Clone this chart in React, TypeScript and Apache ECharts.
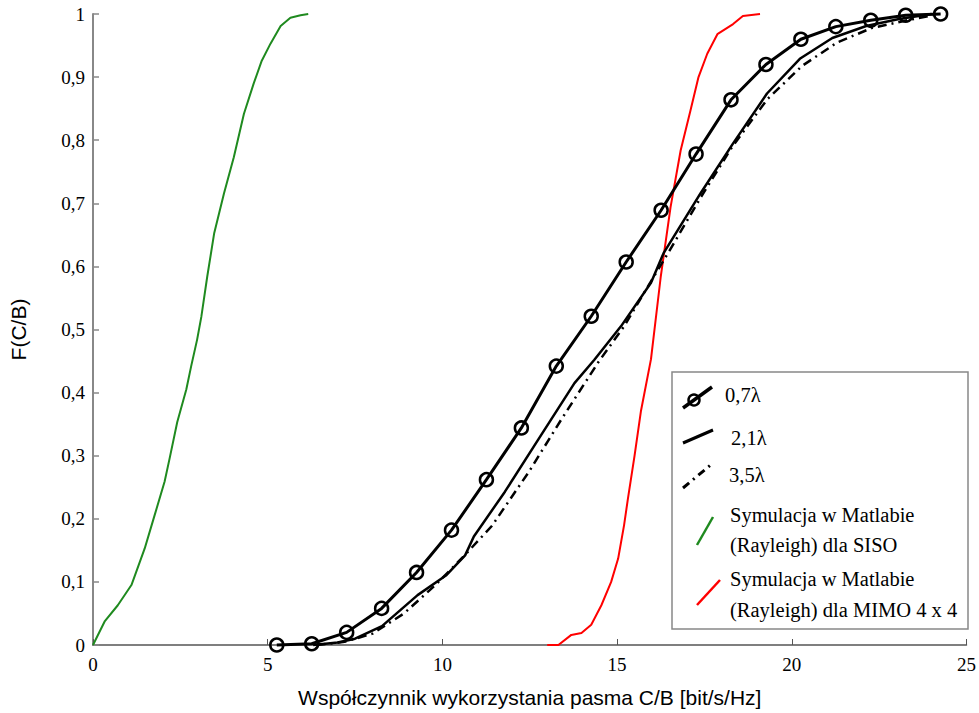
import React, { useEffect, useRef } from "react";
import * as echarts from "echarts";

// 0,7λ (measured, with markers)
const lambda07: [number, number][] = [
  [5.26, 0.0], [6.26, 0.002], [7.26, 0.02], [8.26, 0.058], [9.26, 0.115],
  [10.26, 0.182], [11.26, 0.262], [12.26, 0.344], [13.26, 0.442], [14.26, 0.521],
  [15.26, 0.607], [16.26, 0.689], [17.26, 0.778], [18.26, 0.864], [19.26, 0.92],
  [20.26, 0.96], [21.26, 0.98], [22.26, 0.99], [23.26, 0.998], [24.26, 1.0],
];

// 2,1λ (solid)
const lambda21: [number, number][] = [
  [6.3, 0], [7.0, 0.004], [7.5, 0.01], [8.27, 0.03], [9.29, 0.079], [10.1, 0.11],
  [10.65, 0.142], [10.9, 0.172], [11.79, 0.243], [12.76, 0.327], [13.78, 0.415],
  [14.35, 0.452], [15.11, 0.505], [15.97, 0.574], [16.33, 0.621], [17.39, 0.716],
  [18.32, 0.795], [19.29, 0.874], [20.23, 0.929], [21.16, 0.962], [22.13, 0.981],
  [23.07, 0.992], [24.0, 1.0],
];

// 3,5λ (dash-dot)
const lambda35: [number, number][] = [
  [6.4, 0], [7.2, 0.005], [8.0, 0.018], [8.9, 0.05], [9.8, 0.095], [10.6, 0.14],
  [11.42, 0.189], [12.47, 0.274], [13.41, 0.358], [14.46, 0.448], [15.2, 0.505],
  [15.77, 0.558], [16.5, 0.625], [17.4, 0.71], [18.3, 0.79], [19.3, 0.865],
  [20.3, 0.918], [21.3, 0.955], [22.3, 0.978], [23.3, 0.99], [24.2, 1.0],
];

// Symulacja SISO (green)
const sisoSim: [number, number][] = [
  [0, 0], [0.34, 0.038], [0.71, 0.063], [1.1, 0.095], [1.48, 0.153], [1.76, 0.205],
  [2.05, 0.259], [2.19, 0.295], [2.41, 0.353], [2.67, 0.405], [2.81, 0.442],
  [2.98, 0.484], [3.1, 0.52], [3.27, 0.584], [3.47, 0.653], [3.75, 0.716],
  [4.03, 0.773], [4.32, 0.842], [4.6, 0.89], [4.83, 0.926], [5.08, 0.953],
  [5.37, 0.981], [5.65, 0.994], [5.94, 0.998], [6.16, 1.0],
];

// Symulacja MIMO 4x4 (red)
const mimoSim: [number, number][] = [
  [13.0, 0], [13.32, 0], [13.69, 0.016], [13.98, 0.019], [14.26, 0.032],
  [14.55, 0.063], [14.83, 0.1], [15.03, 0.137], [15.2, 0.19], [15.31, 0.232],
  [15.5, 0.3], [15.68, 0.37], [15.97, 0.453], [16.25, 0.584], [16.53, 0.694],
  [16.82, 0.784], [17.1, 0.847], [17.33, 0.9], [17.58, 0.937], [17.87, 0.968],
  [18.32, 0.984], [18.6, 0.997], [19.09, 1.0],
];

const legendLabels = ["0,7λ", "2,1λ", "3,5λ", "Symulacja w Matlabie", "(Rayleigh) dla SISO", "Symulacja w Matlabie", "(Rayleigh) dla MIMO 4 x 4"];

const SERIF = "'Liberation Serif', 'Times New Roman', serif";
const SANS = "'Liberation Sans', Arial, sans-serif";

export default function App() {
  const ref = useRef<HTMLDivElement>(null);
  useEffect(() => {
    if (!ref.current) return;
    const chart = echarts.init(ref.current, null, { renderer: "svg" });
    const txt = (x: number, y: number, s: string) => ({
      type: "text", x, y, z: 20,
      style: { text: s, fontFamily: SERIF, fontSize: 20.5, fill: "#000", verticalAlign: "middle", align: "left" },
    });
    const seg = (x1: number, y1: number, x2: number, y2: number, stroke: string, lineWidth: number, lineDash?: number[]) => ({
      type: "line", z: 20,
      shape: { x1, y1, x2, y2 },
      style: lineDash ? { stroke, lineWidth, lineDash } : { stroke, lineWidth },
    });
    chart.setOption({
      animation: false,
      backgroundColor: "#fff",
      grid: { left: 88, right: 11, top: 14, bottom: 66 },
      xAxis: {
        type: "value", min: 0, max: 25, interval: 5,
        name: "Współczynnik wykorzystania pasma C/B [bit/s/Hz]",
        nameLocation: "middle", nameGap: 42,
        nameTextStyle: { fontFamily: SANS, fontSize: 21, color: "#000" },
        axisLine: { lineStyle: { color: "#555", width: 1.5 } },
        axisTick: { inside: true, length: 6, lineStyle: { color: "#555" } },
        axisLabel: { fontFamily: SERIF, fontSize: 19, color: "#000", margin: 10 },
        splitLine: { show: false },
      },
      yAxis: {
        type: "value", min: 0, max: 1, interval: 0.1,
        name: "F(C/B)", nameLocation: "middle", nameGap: 64, nameRotate: 90,
        nameTextStyle: { fontFamily: SANS, fontSize: 21, color: "#000" },
        axisLine: { show: true, lineStyle: { color: "#888", width: 2 } },
        axisTick: { show: true, inside: true, length: 6, lineStyle: { color: "#888", width: 1.5 } },
        axisLabel: {
          fontFamily: SERIF, fontSize: 19, color: "#000", margin: 8,
          formatter: (v: number) => (v === 0 ? "0" : v === 1 ? "1" : v.toFixed(1).replace(".", ",")),
        },
        splitLine: { show: false },
      },
      series: [
        {
          name: "Symulacja SISO", type: "line", data: sisoSim, showSymbol: false, clip: false,
          lineStyle: { color: "#1f8a1f", width: 2 },
        },
        {
          name: "Symulacja MIMO", type: "line", data: mimoSim, showSymbol: false, clip: false,
          lineStyle: { color: "#ff0000", width: 2 },
        },
        {
          name: "3,5λ", type: "line", data: lambda35, showSymbol: false, clip: false,
          lineStyle: { color: "#000", width: 2.5, type: [9, 5, 2, 5] },
        },
        {
          name: "2,1λ", type: "line", data: lambda21, showSymbol: false, clip: false,
          lineStyle: { color: "#000", width: 2.5 },
        },
        {
          name: "0,7λ", type: "line", data: lambda07, clip: false,
          symbol: "circle", symbolSize: 13,
          itemStyle: { color: "rgba(0,0,0,0)", borderColor: "#000", borderWidth: 2.5 },
          lineStyle: { color: "#000", width: 3 },
        },
      ],
      graphic: [
        {
          type: "rect", z: 10, shape: { x: 672, y: 372, width: 296, height: 257 },
          style: { fill: "#fff", stroke: "#888", lineWidth: 1.5 },
        },
        seg(683, 408, 712, 387, "#000", 3.5),
        {
          type: "circle", z: 21, shape: { cx: 694, cy: 400, r: 5.5 },
          style: { fill: "rgba(0,0,0,0)", stroke: "#000", lineWidth: 2.5 },
        },
        txt(725, 395, legendLabels[0]),
        seg(683, 443, 713, 430, "#000", 3),
        txt(731, 438, legendLabels[1]),
        seg(683, 488, 713, 463, "#000", 3, [8, 5, 2, 5]),
        txt(729, 475, legendLabels[2]),
        seg(697, 545, 713, 517, "#1f8a1f", 2.5),
        txt(730, 515, legendLabels[3]),
        txt(730, 545, legendLabels[4]),
        seg(697, 605, 720, 580, "#ff0000", 2.5),
        txt(730, 579, legendLabels[5]),
        txt(730, 610, legendLabels[6]),
      ],
    });
    return () => chart.dispose();
  }, []);
  return <div ref={ref} style={{ width: 979, height: 713, position: "absolute", left: 0, top: 0 }} />;
}
